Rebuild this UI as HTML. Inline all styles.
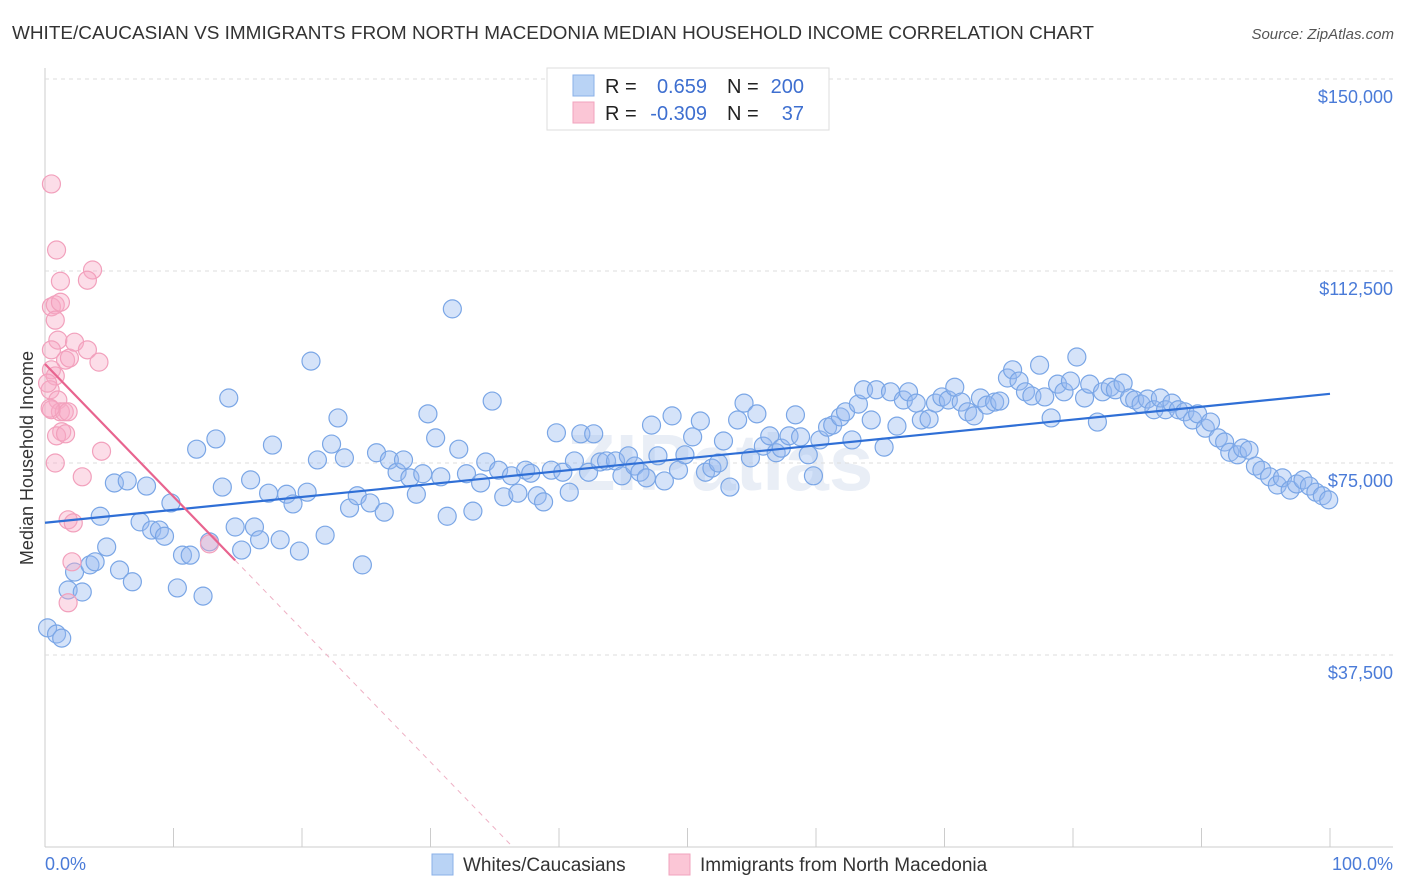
<!DOCTYPE html>
<html><head><meta charset="utf-8">
<style>
body{margin:0;background:#fff;width:1406px;height:892px;overflow:hidden;font-family:"Liberation Sans",sans-serif;}
svg{position:absolute;left:0;top:0}
</style></head>
<body>
<svg id="chart" width="1406" height="892">
<text x="12" y="39" font-size="18" fill="#333" textLength="1082" lengthAdjust="spacingAndGlyphs">WHITE/CAUCASIAN VS IMMIGRANTS FROM NORTH MACEDONIA MEDIAN HOUSEHOLD INCOME CORRELATION CHART</text>
<text x="1394" y="39" font-size="15" fill="#555" text-anchor="end" font-style="italic">Source: ZipAtlas.com</text>
<text x="720" y="490" font-size="80" font-weight="bold" fill="#e9eef6" text-anchor="middle">ZIPatlas</text>
<g id="grid"></g>
<g id="marks"></g>
<text transform="translate(33,458) rotate(-90)" font-size="18" fill="#333" text-anchor="middle">Median Household Income</text>
<text x="45" y="870" font-size="18" fill="#4a7bd8">0.0%</text>
<text x="1393" y="870" font-size="18" fill="#4a7bd8" text-anchor="end">100.0%</text>
<g>
<rect x="547" y="68" width="282" height="62" fill="#fff" stroke="#ddd"/>
<rect x="573" y="75" width="21" height="21" fill="#b9d3f5" stroke="#8ab0e8"/>
<rect x="573" y="102" width="21" height="21" fill="#fbc6d6" stroke="#f2a3bd"/>
<text x="605" y="93" font-size="20" fill="#222">R =</text>
<text x="707" y="93" font-size="20" fill="#3e6fd0" text-anchor="end">0.659</text>
<text x="727" y="93" font-size="20" fill="#222">N =</text>
<text x="804" y="93" font-size="20" fill="#3e6fd0" text-anchor="end">200</text>
<text x="605" y="120" font-size="20" fill="#222">R =</text>
<text x="707" y="120" font-size="20" fill="#3e6fd0" text-anchor="end">-0.309</text>
<text x="727" y="120" font-size="20" fill="#222">N =</text>
<text x="804" y="120" font-size="20" fill="#3e6fd0" text-anchor="end">37</text>
</g>
<g>
<rect x="432" y="854" width="21" height="21" fill="#b9d3f5" stroke="#8ab0e8"/>
<text x="463" y="871" font-size="19" fill="#333">Whites/Caucasians</text>
<rect x="669" y="854" width="21" height="21" fill="#fbc6d6" stroke="#f2a3bd"/>
<text x="700" y="871" font-size="19" fill="#333">Immigrants from North Macedonia</text>
</g>
</svg>
<script>
const yTicks=[37500,75000,112500,150000];
const yTickLabels=["$37,500","$75,000","$112,500","$150,000"];
const blueX=[0.2,0.9,1.3,1.8,2.3,2.9,3.5,3.9,4.3,4.8,5.4,5.8,6.4,6.8,7.4,7.9,8.3,8.9,9.3,9.8,10.3,10.7,11.3,11.8,12.3,12.8,13.3,13.8,14.3,14.8,15.3,16.0,16.3,16.7,17.4,17.7,18.3,18.8,19.3,19.8,20.4,20.7,21.2,21.8,22.3,22.8,23.3,23.7,24.3,24.7,25.3,25.8,26.4,26.8,27.4,27.9,28.4,28.9,29.4,29.8,30.4,30.8,31.3,31.7,32.2,32.8,33.3,33.9,34.3,34.8,35.3,35.7,36.3,36.8,37.4,37.8,38.3,38.8,39.4,39.8,40.3,40.8,41.2,41.7,42.3,42.7,43.2,43.7,44.4,44.9,45.4,45.9,46.3,46.8,47.2,47.7,48.2,48.8,49.3,49.8,50.4,51.0,51.4,51.9,52.4,52.8,53.3,53.9,54.4,54.9,55.4,55.9,56.4,56.9,57.3,57.9,58.4,58.8,59.4,59.8,60.3,60.9,61.3,61.9,62.3,62.8,63.3,63.7,64.3,64.7,65.3,65.8,66.3,66.8,67.2,67.8,68.2,68.8,69.3,69.8,70.3,70.8,71.3,71.8,72.3,72.8,73.3,73.9,74.3,74.9,75.3,75.8,76.3,76.8,77.4,77.8,78.3,78.8,79.3,79.8,80.3,80.9,81.3,81.9,82.3,82.9,83.3,83.9,84.4,84.8,85.3,85.8,86.3,86.8,87.2,87.7,88.2,88.7,89.3,89.7,90.3,90.7,91.3,91.8,92.2,92.8,93.2,93.7,94.2,94.7,95.3,95.9,96.3,96.9,97.4,97.9,98.4,98.9,99.4,99.9];
const blueY=[42.8,41.6,40.8,50.2,53.7,49.8,55.1,55.7,64.6,58.6,71.1,54.1,71.5,51.8,63.5,70.5,61.9,61.9,60.7,67.2,50.6,57.0,57.0,77.7,49.0,59.6,79.7,70.3,87.7,62.5,58.0,71.7,62.5,60.0,69.1,78.5,60.0,68.9,67.0,57.8,69.3,94.9,75.6,60.9,78.7,83.8,76.0,66.2,68.6,55.1,67.2,77.0,65.4,75.6,73.2,75.6,72.1,68.9,72.9,84.6,79.9,72.3,64.6,105.1,77.7,72.9,65.6,71.1,75.2,87.1,73.6,68.4,72.5,69.1,73.6,73.0,68.6,67.4,73.6,80.9,73.2,69.3,75.4,80.7,73.2,80.7,75.2,75.4,75.4,72.5,76.4,74.4,73.2,72.1,82.4,76.4,71.5,84.2,73.6,76.6,80.1,83.2,73.2,74.0,75.0,79.3,70.3,83.4,86.7,76.0,84.6,78.3,80.3,77.0,77.9,80.3,84.4,80.1,76.6,72.5,79.5,82.0,82.4,84.0,85.0,79.5,86.5,89.3,83.4,89.3,78.1,88.9,82.2,87.3,88.9,86.7,83.4,83.6,86.7,87.9,87.3,89.8,86.9,85.0,84.2,87.7,86.3,86.9,87.1,91.6,93.2,91.0,88.9,88.1,94.1,87.9,83.8,90.4,88.9,91.0,95.7,87.7,90.4,83.0,88.9,89.8,89.3,90.6,87.7,87.3,86.5,87.5,85.4,87.7,85.4,86.7,85.4,85.0,83.4,84.6,81.8,83.0,79.9,79.1,77.1,76.6,77.9,77.5,74.4,73.6,72.3,70.7,72.1,69.7,70.9,71.7,70.5,69.3,68.6,67.8];
const pinkX=[0.5,0.9,1.2,0.5,0.8,1.2,0.8,1.0,0.5,1.6,1.9,2.3,3.3,3.7,3.3,4.2,0.5,0.8,0.4,1.0,0.5,1.2,1.5,1.8,1.3,0.9,1.6,4.4,0.8,2.9,1.8,2.2,2.1,1.8,12.8,0.2,0.4];
const pinkY=[129.5,116.6,110.5,105.5,105.9,106.4,102.9,99.0,97.1,95.1,95.5,98.6,97.1,112.7,110.7,94.7,93.2,92.0,89.3,87.3,85.4,85.0,85.0,85.0,81.1,80.3,80.7,77.3,75.0,72.3,63.9,63.3,55.7,47.7,59.2,90.6,85.7];

const NS='http://www.w3.org/2000/svg';
const X0=45,X1=1330,Y0=847,PXK=192/37.5;
function sx(p){return X0+(X1-X0)*p/100;}
function sy(k){return Y0-k*PXK;}
function mk(tag,at,parent){const e=document.createElementNS(NS,tag);for(const k in at)e.setAttribute(k,at[k]);parent.appendChild(e);return e;}
const grid=document.getElementById('grid'),marks=document.getElementById('marks');

const ax=mk('line',{x1:X0,y1:68,x2:X0,y2:Y0,stroke:'#ccc'},grid);


const bx=mk('line',{x1:X0,y1:Y0,x2:1393,y2:Y0,stroke:'#ccc'},grid);


for(let i=0;i<=10;i++){
  const t=mk('line',{x1:sx(i*10),y1:828,x2:sx(i*10),y2:Y0,stroke:'#ccc'},grid);
  
  
}
yTicks.forEach((v,i)=>{
  const y=sy(v/1000);
  const g=mk('line',{x1:X0,y1:y,x2:1393,y2:y,stroke:'#ddd','stroke-dasharray':'4,4'},grid);
  
  
  const t=mk('text',{x:1393,y:y+24,'font-size':18,fill:'#4a7bd8','text-anchor':'end'},grid);
  t.textContent=yTickLabels[i];
  
  
});

function reg(xs,ys){const n=xs.length;let mx=0,my=0;for(let i=0;i<n;i++){mx+=xs[i];my+=ys[i];}mx/=n;my/=n;let sxy=0,sxx=0;for(let i=0;i<n;i++){sxy+=(xs[i]-mx)*(ys[i]-my);sxx+=(xs[i]-mx)**2;}const b=sxy/sxx;return [my-b*mx,b];}

blueX.forEach((x,i)=>{
  const c=mk('circle',{cx:sx(x),cy:sy(blueY[i]),r:9,fill:'rgba(150,185,240,0.4)',stroke:'#7aa6e6','stroke-width':1.2},marks);
  
  
});
pinkX.forEach((x,i)=>{
  const c=mk('circle',{cx:sx(x),cy:sy(pinkY[i]),r:9,fill:'rgba(248,170,198,0.4)',stroke:'#f2a0bc','stroke-width':1.2},marks);
  
  
});
const [ba,bb]=reg(blueX,blueY);
const bl=mk('line',{x1:sx(0),y1:sy(ba),x2:sx(100),y2:sy(ba+bb*100),stroke:'#2f6fd6','stroke-width':2.2},marks);


const [pa,pb]=reg(pinkX,pinkY);
const pmax=Math.max(...pinkX)+2;
const pl=mk('line',{x1:sx(0),y1:sy(pa),x2:sx(pmax),y2:sy(pa+pb*pmax),stroke:'#e8648f','stroke-width':2.2},marks);


const xz=pb<0?-pa/pb:pmax;
const pd=mk('line',{x1:sx(pmax),y1:sy(pa+pb*pmax),x2:sx(xz),y2:sy(0),stroke:'#eeb0c4','stroke-width':1,'stroke-dasharray':'5,5'},marks);


</script>
</body></html>
